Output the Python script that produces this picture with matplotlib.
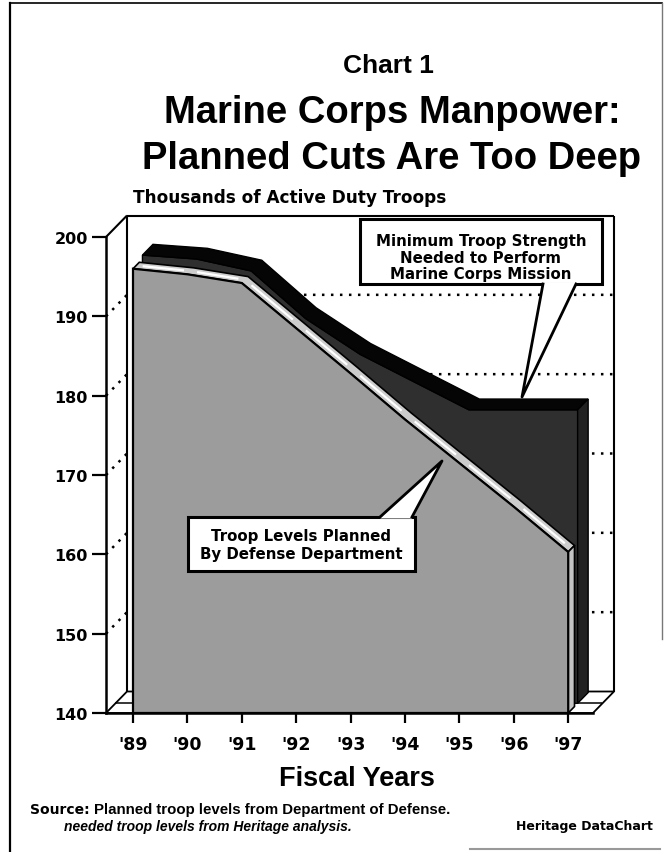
import matplotlib
matplotlib.use("Agg")
import matplotlib.pyplot as plt
from matplotlib.patches import Polygon, Rectangle
import numpy as np

# ---------------- data ----------------
years = ["'89", "'90", "'91", "'92", "'93", "'94", "'95", "'96", "'97"]
planned = [196.0, 195.3, 194.2, 188.5, 182.8, 177.0, 171.5, 166.0, 160.3]   # DoD planned
needed = [196.5, 196.0, 194.5, 188.5, 184.0, 180.5, 177.0, 177.0, 177.0]    # Heritage minimum
y_ticks = [140, 150, 160, 170, 180, 190, 200]

title_small = "Chart 1"
title_lines = ["Marine Corps Manpower:", "Planned Cuts Are Too Deep"]
subtitle = "Thousands of Active Duty Troops"
xlabel = "Fiscal Years"
callout_needed = "Minimum Troop Strength\nNeeded to Perform\nMarine Corps Mission"
callout_planned = "Troop Levels Planned\nBy Defense Department"

# ---------------- layout ----------------
W, H = 665, 853
fig = plt.figure(figsize=(W / 100, H / 100), dpi=100)
fig.patch.set_facecolor("white")

AX_L, AX_R, AX_T, AX_B = 106, 593, 238, 714
X_FIRST_PX, X_STEP_PX = 133, 54.4
ax = fig.add_axes([AX_L / W, 1 - AX_B / H, (AX_R - AX_L) / W, (AX_B - AX_T) / H])
X0 = (AX_L - X_FIRST_PX) / X_STEP_PX
X1 = (AX_R - X_FIRST_PX) / X_STEP_PX
YMIN, YMAX = y_ticks[0], y_ticks[-1]
ax.set_xlim(X0, X1)
ax.set_ylim(YMIN, YMAX)
ax.set_facecolor("none")

px_per_unit = (AX_B - AX_T) / (YMAX - YMIN)
DX = 21 / X_STEP_PX
DY = 21.5 / px_per_unit

def P(x, v, d):
    return (x + d * DX, v + d * DY)

xs = np.arange(len(years))

HEAVY = "DejaVu Sans"
HELV = "Liberation Sans"

# ---------- walls / grid ----------
kw = dict(color="black", clip_on=False, solid_capstyle="butt")
ax.plot([X0, X0 + DX], [YMAX, YMAX + DY], lw=1.5, zorder=2, **kw)
ax.plot([X0 + DX, X0 + DX], [YMIN + DY, YMAX + DY], lw=1.5, zorder=2, **kw)
ax.plot([X0 + DX, X1 + DX], [YMAX + DY, YMAX + DY], lw=1.5, zorder=2, **kw)
ax.plot([X1 + DX, X1 + DX], [YMIN + DY, YMAX + DY], lw=1.5, zorder=2, **kw)
for v in y_ticks[1:-1]:
    ax.plot([X0, X0 + DX, X1 + DX], [v, v + DY, v + DY], lw=1.8,
            linestyle=(0, (1, 2.6)), color="black", clip_on=False, zorder=1)

# floor slab
floor = Polygon([(X0, YMIN), (X1, YMIN), (X1 + DX, YMIN + DY), (X0 + DX, YMIN + DY)],
                closed=True, fc="white", ec="black", lw=1.3, clip_on=False, zorder=2)
ax.add_patch(floor)
for d in (0.45,):
    ax.plot([X0 + d * DX, X1 + d * DX], [YMIN + d * DY] * 2, lw=1.1, zorder=2, **kw)

# ---------- back series (needed) ----------
d2a, d2b = 0.45, 0.95
front_edge = [P(x, v, d2a) for x, v in zip(xs, needed)]
back_edge = [P(x, v, d2b) for x, v in zip(xs, needed)]
face = [P(xs[0], YMIN, d2a)] + front_edge + [P(xs[-1], YMIN, d2a)]
ax.add_patch(Polygon(face, closed=True, fc="#2f2f2f", ec="black", lw=1.0,
                     clip_on=False, zorder=3))
ax.add_patch(Polygon(front_edge + back_edge[::-1], closed=True, fc="#050505",
                     ec="black", lw=1.0, clip_on=False, zorder=3))
side = [P(xs[-1], YMIN, d2a), P(xs[-1], needed[-1], d2a),
        P(xs[-1], needed[-1], d2b), P(xs[-1], YMIN, d2b)]
ax.add_patch(Polygon(side, closed=True, fc="#222222", ec="black", lw=1.0,
                     clip_on=False, zorder=3))

# ---------- front series (planned) ----------
d1 = 0.3
f_edge = [P(x, v, 0) for x, v in zip(xs, planned)]
b_edge = [P(x, v, d1) for x, v in zip(xs, planned)]
ax.add_patch(Polygon(f_edge + b_edge[::-1], closed=True, fc="#cccccc",
                     ec="black", lw=1.2, clip_on=False, zorder=4))
side = [P(xs[-1], YMIN, 0), P(xs[-1], planned[-1], 0),
        P(xs[-1], planned[-1], d1), P(xs[-1], YMIN, d1)]
ax.add_patch(Polygon(side, closed=True, fc="#c4c4c4", ec="black", lw=1.2,
                     clip_on=False, zorder=4))
face = [(xs[0], YMIN)] + f_edge + [(xs[-1], YMIN)]
ax.add_patch(Polygon(face, closed=True, fc="#9c9c9c", ec="black", lw=1.6,
                     clip_on=False, zorder=4))
for i in range(len(xs) - 1):
    t0, t1 = 0.12, 0.88
    xa = xs[i] + t0 * (xs[i + 1] - xs[i]); va = planned[i] + t0 * (planned[i + 1] - planned[i])
    xb = xs[i] + t1 * (xs[i + 1] - xs[i]); vb = planned[i] + t1 * (planned[i + 1] - planned[i])
    pa, pb = P(xa, va, d1 / 2), P(xb, vb, d1 / 2)
    ax.plot([pa[0], pb[0]], [pa[1], pb[1]], color="white", lw=1.6, zorder=5,
            clip_on=False, solid_capstyle="butt")

# ---------- axes / ticks ----------
for s in ("top", "right"):
    ax.spines[s].set_visible(False)
ax.spines["left"].set_linewidth(1.8)
ax.spines["bottom"].set_linewidth(1.8)
ax.spines["left"].set_zorder(6)
ax.spines["bottom"].set_zorder(6)
ax.set_xticks(xs)
ax.set_xticklabels(years)
ax.set_yticks(y_ticks)
ax.set_yticklabels([str(v) for v in y_ticks])
ax.tick_params(axis="x", direction="out", length=7, width=1.6, pad=9)
ax.tick_params(axis="y", direction="out", length=10, width=1.6, pad=3)
for lab in ax.get_xticklabels():
    lab.set_fontfamily(HEAVY); lab.set_fontweight("bold"); lab.set_fontsize(12.5)
for lab in ax.get_yticklabels():
    lab.set_fontfamily(HEAVY); lab.set_fontweight("bold"); lab.set_fontsize(11.5)

# ---------- overlay (pixel coords) ----------
ov = fig.add_axes([0, 0, 1, 1], zorder=10)
ov.set_xlim(0, W); ov.set_ylim(H, 0)
ov.axis("off")
ov.patch.set_alpha(0)

# frame
ov.plot([10, 10], [4, H], color="black", lw=1.6)
ov.plot([10, 662], [4, 4], color="black", lw=1.2)
ov.plot([662, 662], [4, 640], color="#777777", lw=1.0)
ov.plot([470, 660], [850, 850], color="#999999", lw=1.5)

# titles
ov.text(388, 66, title_small, ha="center", va="center", fontsize=19,
        fontweight="bold", family=HELV)
ov.text(392, 113, title_lines[0], ha="center", va="center", fontsize=27.5,
        fontweight="bold", family=HELV)
ov.text(392, 159, title_lines[1], ha="center", va="center", fontsize=27.5,
        fontweight="bold", family=HELV)
ov.text(133, 198, subtitle, ha="left", va="center", fontsize=12.2,
        fontweight="bold", family=HEAVY)
ov.text(357, 779, xlabel, ha="center", va="center", fontsize=19.5,
        fontweight="bold", family=HELV)

# callout 1 (needed)
ov.add_patch(Rectangle((360, 220), 242, 65, fc="white", ec="black", lw=2.2, zorder=5))
ov.add_patch(Polygon([(543, 283.5), (522, 398), (576, 283.5)], closed=True,
                     fc="white", ec="none", zorder=6))
ov.plot([543, 522, 576], [285, 398, 285], color="black", lw=2.0, zorder=7)
ov.text(481, 258, callout_needed, ha="center", va="center", fontsize=10.8,
        fontweight="bold", family=HEAVY, linespacing=1.12, zorder=8)

# callout 2 (planned)
ov.add_patch(Rectangle((188, 518), 227, 54, fc="white", ec="black", lw=2.2, zorder=5))
ov.add_patch(Polygon([(380, 519.5), (442, 462), (412, 519.5)], closed=True,
                     fc="white", ec="none", zorder=6))
ov.plot([380, 442, 412], [518, 462, 518], color="black", lw=2.0, zorder=7)
ov.text(301, 546, callout_planned, ha="center", va="center", fontsize=10.8,
        fontweight="bold", family=HEAVY, linespacing=1.25, zorder=8)

# source
renderer = fig.canvas.get_renderer()
t_src = ov.text(30, 810, "Source:", ha="left", va="center", fontsize=10,
                fontweight="bold", family=HEAVY)
bb = t_src.get_window_extent(renderer)
x_next = bb.x1 + 4  # display px == image px at dpi 100
ov.text(x_next, 810, "Planned troop levels from Department of Defense.", ha="left",
        va="center", fontsize=10.8, fontweight="bold", family=HELV)
ov.text(64, 827, "needed troop levels from Heritage analysis.", ha="left",
        va="center", fontsize=10, fontweight="bold", style="italic", family=HELV)
ov.text(653, 827, "Heritage DataChart", ha="right", va="center", fontsize=9,
        fontweight="bold", family=HEAVY)

fig.savefig("out.png", dpi=100, facecolor="white")
